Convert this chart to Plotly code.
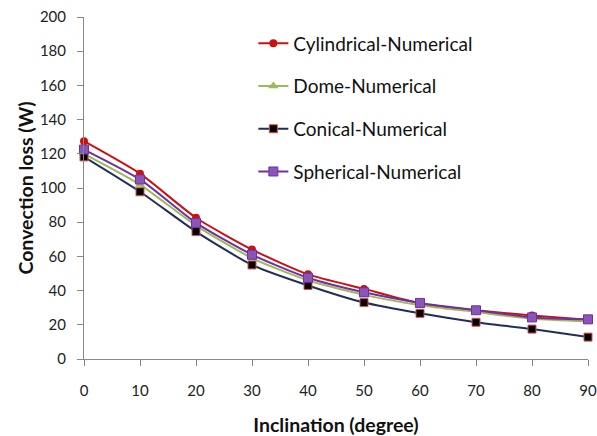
import plotly.graph_objects as go

inclination = [0, 10, 20, 30, 40, 50, 60, 70, 80, 90]
cylindrical = [127.4, 108.4, 82.6, 64, 49.5, 41, 32.5, 28.5, 25.5, 23]
dome = [120, 102, 78, 59, 46, 37.5, 31.5, 27.5, 23.5, 22]
conical = [118.2, 97.8, 74.5, 55, 43, 33, 26.7, 21.5, 17.5, 12.8]
spherical = [122.5, 105, 79.6, 61, 47.5, 39, 32.8, 28.5, 24.3, 23.2]

series = [
    ("Cylindrical-Numerical", cylindrical, "#CC1010", dict(symbol="circle", size=8, color="#CC1010")),
    ("Dome-Numerical", dome, "#9BBB59", dict(symbol="triangle-up", size=9, color="#9BBB59")),
    ("Conical-Numerical", conical, "#1F2D5A", dict(symbol="square", size=8, color="black", line=dict(color="#E05050", width=1))),
    ("Spherical-Numerical", spherical, "#7030A0", dict(symbol="square", size=9, color="#8A55B8", line=dict(color="#7030A0", width=1))),
]

fig = go.Figure()
for i, (name, vals, col, mk) in enumerate(series):
    fig.add_trace(go.Scatter(
        x=inclination, y=vals, name=name, mode="lines+markers",
        line=dict(color=col, width=2, shape="spline", smoothing=0.6),
        marker=mk, cliponaxis=False, legendgroup=str(i),
    ))

font_family = "Lato, Open Sans, sans-serif"
fig.update_layout(
    width=597, height=436,
    margin=dict(l=84, r=9, t=17, b=77, autoexpand=False),
    paper_bgcolor="white", plot_bgcolor="white",
    font=dict(family=font_family, color="#222222"),
    showlegend=True,
    legend=dict(x=0.336, y=0.978, xanchor="left", yanchor="top",
                font=dict(size=19, color="#111111", family=font_family),
                itemwidth=30,
                tracegroupgap=15, bgcolor="rgba(0,0,0,0)"),
    xaxis=dict(range=[0, 90], tickmode="array", tickvals=inclination,
               automargin=False, ticklabeloverflow="allow",
               showgrid=False, zeroline=False, showline=True,
               linecolor="#888888", linewidth=1, ticks="outside",
               tickcolor="#888888", ticklen=6, ticklabelstandoff=12,
               tickfont=dict(size=15, color="#222222"),
               title=dict(text="<b>Inclination (degree)</b>", font=dict(size=19.5, color="#111111"), standoff=20)),
    yaxis=dict(range=[0, 200], dtick=20, showgrid=False, zeroline=False,
               automargin=False, ticklabeloverflow="allow",
               showline=True, linecolor="#888888", linewidth=1,
               ticks="outside", tickcolor="#888888", ticklen=6,
               ticklabelstandoff=8,
               tickfont=dict(size=15, color="#222222"),
               title=dict(text="<b>Convection loss (W)</b>", font=dict(size=19.5, color="#111111"), standoff=1)),
)

fig.write_html("out.html",
               config={"displayModeBar": False},
               post_script="document.body.style.margin='0';document.body.style.overflow='hidden';")
